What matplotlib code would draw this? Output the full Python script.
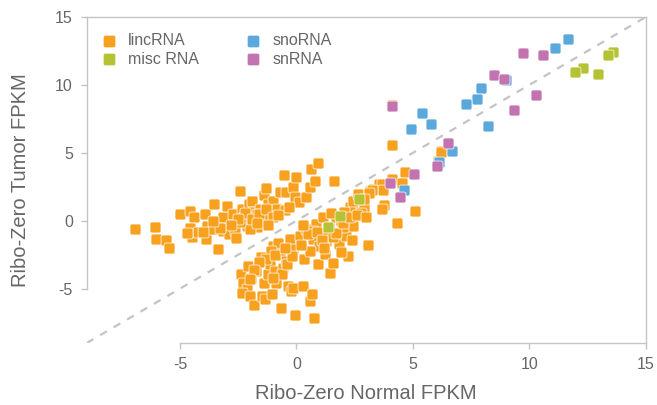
import numpy as np
import matplotlib
matplotlib.use('Agg')
import matplotlib.pyplot as plt
from matplotlib.path import Path

# lincRNA (normal, tumor) FPKM values
linc_x = [-6.94, -6.09, -6.02, -5.60, -5.47, -4.98, -4.55, -4.38, -4.58, -4.48,
          -4.24, -3.91, -3.84, -3.87, -3.53, -3.58, -3.36, -3.13, -3.16, -2.99,
          -2.91, -2.70, -2.63, -2.59, -2.41, -2.34, -2.24, -2.13, -2.02, -1.92,
          -1.88, -1.78, -1.71, -1.56, -1.49, -1.39, -1.31, -1.21, -1.11, -0.99,
          -0.85, -0.71, -0.54, -0.49, -0.43, -0.14, -0.07, 0.00, 0.11, 0.40,
          0.60, 0.64, 0.82, 0.94, 1.60, -1.28, -2.13, -1.99, -2.41, -1.71,
          -2.39, -2.06, -2.31, -2.13, -2.35, -2.00, -1.83, -1.93, -1.72, -1.50,
          -1.40, -1.46, -1.36, -1.22, -1.12, -0.99, -0.92, -0.87, -1.06, -0.78,
          -0.71, -0.64, -0.57, -0.43, -0.36, -0.28, -0.14, -0.25, -0.14, -0.05,
          0.14, 0.28, 0.31, 0.43, 0.57, 0.65, 0.74, 0.71, 0.93, 0.97,
          1.21, 1.28, 1.46, 1.57, 1.85, 2.22, 2.14, 2.42, 2.70, 3.08,
          3.14, 3.28, 3.56, 0.85, 1.14, 1.42, 1.71, 1.99, 2.28, 2.42,
          2.63, 2.91, 0.71, 1.14, 1.57, 1.92, 2.06,
          4.09, 4.09, 6.19, 6.09, 4.67, 4.10, 3.67, 3.73, 3.25, 3.10,
          4.53, 3.77, 3.67, 2.92, 2.78, 5.08, 4.31, 6.19,
          -2.2, -1.9, -1.6, -1.3, -1.0, -2.5, -1.7, -2.8, -3.3, -3.6,
          -4.0, -4.7, -1.2, -0.8, -0.3,
          -1.1, -1.3, -0.9, -1.6, -1.8, -0.6, -0.4, -1.0, -0.2, -0.5, -2.0,
          0.5, 0.9, 1.1, 1.7, 2.0, 2.3, 2.6, 1.5, 1.2, 0.6,
          0.2, 1.9, 2.4, 0.3, 2.9, 3.0]
linc_y = [-0.64, -0.44, -1.35, -1.43, -2.02, 0.49, 0.74, 0.30, -0.54, -1.23,
          -0.86, 0.49, -0.37, -1.31, 1.23, -0.62, -2.09, 0.25, -0.74, 1.11,
          -0.99, 0.49, -0.74, -1.28, 2.17, 0.86, 0.30, -0.37, 1.23, 1.48,
          0.62, 0.12, -0.49, 0.86, 0.00, 1.90, 2.41, 1.23, 0.62, 1.48,
          0.86, 2.09, 3.35, 0.79, 2.12, 2.46, 1.72, 3.20, 1.35, 1.77,
          2.46, 3.82, 2.96, 4.24, 2.96, 0.37, 0.25, -0.62, -0.12, 0.49,
          -3.94, -3.33, -4.56, -5.05, -5.30, -5.54, -6.21, -4.19, -3.69, -2.66,
          -4.56, -5.54, -5.79, -3.94, -3.20, -1.85, -3.69, -4.56, -5.42, -1.60,
          -2.46, -6.40, -3.45, -2.96, -4.80, -1.35, -2.09, -5.17, -4.93, -6.95,
          -1.11, -4.80, -2.83, -0.62, -5.91, -5.37, -7.14, -1.35, -3.20, -1.85,
          -2.46, -1.48, -3.82, -3.08, -1.72, -2.59, -1.11, -0.37, 0.74, -1.80,
          2.22, 2.34, 2.71, -0.25, 0.25, -0.49, 0.25, -0.49, 0.99, 1.48,
          1.97, 0.99, -0.74, -1.11, -1.23, 0.00, 0.62,
          8.55, 5.59, 5.12, 4.43, 3.57, 3.08, 2.71, 2.27, 2.27, 2.02,
          2.75, 1.18, 0.86, 0.98, 0.54, 0.74, -0.20, 5.05,
          0.6, 0.1, 0.5, 0.9, 0.3, 0.1, -0.2, -0.3, -0.5, 0.0,
          -0.8, -0.9, -0.3, 0.4, 1.0,
          -2.2, -2.8, -2.5, -3.0, -3.6, -3.9, -3.2, -4.2, -2.6, -2.0, -4.3,
          -1.0, -0.8, -1.4, -0.9, -0.2, 0.3, 0.4, 0.6, -2.0, -2.2,
          -1.8, -2.3, -1.4, -0.3, 1.6, 0.3]

misc_x = [1.37, 1.89, 2.67, 13.59, 13.38, 12.32, 11.95, 12.95]
misc_y = [-0.44, 0.32, 1.60, 12.44, 12.20, 11.28, 10.96, 10.84]

sno_x = [11.64, 11.10, 9.01, 7.94, 7.74, 7.30, 5.38, 5.79, 4.94, 8.22, 6.69, 6.12, 4.63]
sno_y = [13.35, 12.74, 10.35, 9.81, 8.99, 8.62, 7.93, 7.14, 6.77, 6.97, 5.17, 4.31, 2.27]

sn_x = [9.71, 10.60, 8.47, 8.92, 10.27, 9.35, 4.11, 6.52, 6.02, 5.05, 4.02, 4.44]
sn_y = [12.32, 12.20, 10.72, 10.47, 9.24, 8.13, 8.45, 5.71, 4.01, 3.45, 2.76, 1.72]

ticks = [-5, 0, 5, 10, 15]


def rounded_square(r=0.35):
    verts = [(-1 + r, -1), (1 - r, -1), (1, -1), (1, -1 + r), (1, 1 - r), (1, 1),
             (1 - r, 1), (-1 + r, 1), (-1, 1), (-1, 1 - r), (-1, -1 + r), (-1, -1),
             (-1 + r, -1), (-1 + r, -1)]
    codes = [Path.MOVETO, Path.LINETO, Path.CURVE3, Path.CURVE3, Path.LINETO,
             Path.CURVE3, Path.CURVE3, Path.LINETO, Path.CURVE3, Path.CURVE3,
             Path.LINETO, Path.CURVE3, Path.CURVE3, Path.CLOSEPOLY]
    return Path(verts, codes)


plt.rcParams['font.family'] = ['Liberation Sans', 'DejaVu Sans']
plt.rcParams['axes.unicode_minus'] = False
marker = rounded_square()
grey = '#c4c4c4'
text_grey = '#666666'

fig = plt.figure(figsize=(6.57, 4.05), dpi=100)
ax = fig.add_axes([0.132, 0.153, 0.851, 0.805])

ax.plot([-9, 15], [-9, 15], color=grey, lw=1.6, dashes=(3.5, 3.5), zorder=1)

series = [('lincRNA', linc_x, linc_y, '#f7a11f'),
          ('misc RNA', misc_x, misc_y, '#b5c233'),
          ('snoRNA', sno_x, sno_y, '#5aa8dc'),
          ('snRNA', sn_x, sn_y, '#c373b0')]
for name, xs, ys, col in series:
    ax.scatter(xs, ys, s=62, marker=marker, color=col, edgecolors='white',
               linewidths=0.5, label=name, zorder=3)

ax.set_xlim(-9, 15)
ax.set_ylim(-9, 15)
ax.set_xticks(ticks)
ax.set_yticks(ticks)
ax.spines['left'].set_bounds(-5, 15)
ax.spines['bottom'].set_bounds(-5, 15)
for sp in ax.spines.values():
    sp.set_color(grey)
    sp.set_linewidth(1.0)
ax.tick_params(colors=grey, labelcolor=text_grey, labelsize=11.5, length=4, width=1)
ax.tick_params(axis='y', pad=6)
ax.tick_params(axis='x', pad=6)

ax.set_xlabel('Ribo-Zero Normal FPKM', fontsize=14.5, color=text_grey, labelpad=9)
ax.set_ylabel('Ribo-Zero Tumor FPKM', fontsize=14.5, color=text_grey, labelpad=18)

leg = ax.legend(ncol=2, loc='upper left', bbox_to_anchor=(-0.015, 0.995), frameon=False,
                fontsize=11.5, handletextpad=0.2, columnspacing=2.4,
                labelspacing=0.22, markerscale=1.15, scatterpoints=1)
for t in leg.get_texts():
    t.set_color(text_grey)

fig.savefig('out.png', dpi=100)
